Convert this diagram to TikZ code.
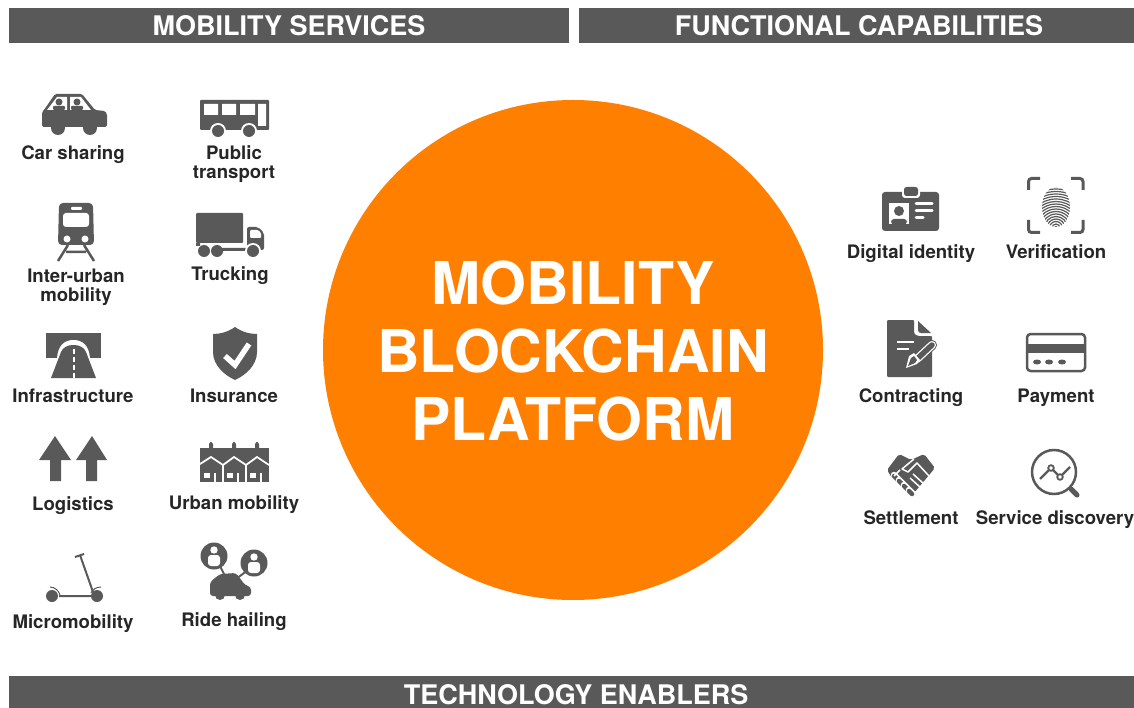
\documentclass[tikz,border=0pt]{standalone}
\usepackage{fontspec}
\setmainfont{TeX Gyre Heros}
\definecolor{bargray}{HTML}{595959}
\definecolor{icongray}{HTML}{595959}
\definecolor{captiontext}{HTML}{262626}
\definecolor{huborange}{HTML}{FF7F00}
\begin{document}
\begin{tikzpicture}[x=1pt,y=-1pt]
   \tikzstyle{banner}=[text=white,inner sep=0pt,font=\fontsize{27}{28}\selectfont\bfseries,text height=20pt,text depth=0pt]
   \tikzstyle{hub}=[circle,fill=huborange,text=white,inner sep=0pt,minimum size=500pt,align=center,font=\fontsize{59}{68}\selectfont\bfseries]
   \tikzstyle{caption}=[text=captiontext,inner sep=0pt,font=\fontsize{18.6}{19}\selectfont\bfseries,text height=14pt,text depth=0pt]
   \tikzstyle{captiontwo}=[text=captiontext,inner sep=0pt,font=\fontsize{18.6}{19}\selectfont\bfseries,align=center]
   \tikzstyle{icon}=[fill=icongray,draw=none]
   \tikzstyle{cutout}=[fill=white,draw=none]
   \tikzstyle{stroke}=[draw=icongray,line width=2.5pt]
   \tikzstyle{whiteline}=[draw=white,line width=2.5pt]
   \useasboundingbox (0,0) rectangle (1134,708);
   \fill [bargray] (9,8) rectangle (569,43);
   \fill [bargray] (579,8) rectangle (1134,43);
   \fill [bargray] (9,676) rectangle (1134,708);
   \node (services) [banner] at (289,25.5) {MOBILITY SERVICES} ;
   \node (capabilities) [banner] at (859,25.5) {FUNCTIONAL CAPABILITIES} ;
   \node (enablers) [banner] at (576,694) {TECHNOLOGY ENABLERS} ;
   \node (platform) [hub] at (573,350) {\rule{0pt}{46pt}MOBILITY\\BLOCKCHAIN\\PLATFORM} ;

   \node (carsharing) [caption] at (73,153) {Car sharing} ;
   \node (public) [captiontwo] at (234,164) {Public\\transport} ;
   \node (interurban) [captiontwo] at (76,287) {Inter-urban\\mobility} ;
   \node (trucking) [caption] at (230,274) {Trucking} ;
   \node (infrastructure) [caption] at (73,395) {Infrastructure} ;
   \node (insurance) [caption,right of=infrastructure,node distance=161pt] {Insurance} ;
   \node (logistics) [caption,below of=infrastructure,node distance=108pt] {Logistics} ;
   \node (urban) [caption] at (234,502) {Urban mobility} ;
   \node (micro) [caption,below of=logistics,node distance=118pt] {Micromobility} ;
   \node (ridehailing) [caption] at (234,619) {Ride hailing} ;
   \node (identity) [caption] at (911,252) {Digital identity} ;
   \node (verification) [caption,right of=identity,node distance=145pt] {Verification} ;
   \node (contracting) [caption,below of=identity,node distance=143pt] {Contracting} ;
   \node (payment) [caption,right of=contracting,node distance=145pt] {Payment} ;
   \node (settlement) [caption,below of=contracting,node distance=122pt] {Settlement} ;
   \node (discovery) [caption] at (1055,517) {Service discovery} ;

   % car sharing
   \fill [icon,rounded corners=1.5pt] (42,127) -- (42,112) -- (44,110) -- (55,94) -- (82,94) -- (95,110) -- (105,111) -- (107,114) -- (107,127) -- cycle ;
   \fill [icon] (58,128) circle (7) (90,128) circle (7) ;
   \fill [cutout] (47,110) -- (57,97) -- (67,97) -- (67,110) -- cycle (70,97) -- (81,97) -- (91,110) -- (70,110) -- cycle ;
   \fill [icon] (59,102) circle (3.5) (77,102) circle (3.5) ;
   \fill [icon,rounded corners=1pt] (53,110) -- (53,106) -- (65,106) -- (65,110) -- cycle (71,110) -- (71,106) -- (83,106) -- (83,110) -- cycle ;

   % public transport
   \fill [icon,rounded corners=1pt] (200,100) rectangle (269,130) ;
   \fill [cutout] (204,104) rectangle (218,115) (222,104) rectangle (236,115) (240,104) rectangle (255,115) (258,104) rectangle (266,126) ;
   \fill [cutout] (218,131) circle (8) (249,131) circle (8) ;
   \fill [icon] (218,131) circle (6) (249,131) circle (6) ;

   % inter-urban mobility
   \fill [icon,rounded corners=4pt] (58,245) -- (59,203) -- (93,203) -- (94,245) -- cycle ;
   \fill [cutout,rounded corners=3pt] (63,213) rectangle (89,227) ;
   \fill [cutout,rounded corners=1pt] (71,207) rectangle (82,210) ;
   \fill [cutout] (67,239) circle (3.5) (85,239) circle (3.5) ;
   \draw [stroke] (68,245) -- (58,261) (84,245) -- (94,261) (66,252) -- (86,252) ;

   % trucking
   \fill [icon,rounded corners=1pt] (196,213) rectangle (243,243) ;
   \fill [icon,rounded corners=2pt] (247,227) -- (258,227) -- (264,233) -- (264,250) -- (247,250) -- cycle ;
   \fill [cutout,rounded corners=1pt] (250,230) -- (258,230) -- (261,233) -- (261,238) -- (250,238) -- cycle ;
   \fill [icon] (196,243) rectangle (200,246) (222,248) rectangle (250,251) ;
   \fill [icon] (204,251) circle (6) (217,251) circle (6) ;
   \fill [cutout] (253,251) circle (8) ;
   \fill [icon] (253,251) circle (6) ;

   % infrastructure
   \fill [icon] (46,333) rectangle (101,358) ;
   \fill [cutout] (57,358) .. controls (58,346) and (64,340) .. (73.5,340) .. controls (83,340) and (89,346) .. (90,358) -- cycle ;
   \fill [icon] (51,378) -- (61,352) .. controls (63,347) and (68,345) .. (73.5,345) .. controls (79,345) and (84,347) .. (86,352) -- (96,378) -- cycle ;
   \draw [whiteline,line width=2pt,dash pattern=on 5pt off 3pt] (73.5,349) -- (73.5,378) ;

   % insurance
   \fill [icon] (235,327) .. controls (228,332) and (220,334) .. (213,334) -- (213,352) .. controls (213,365) and (224,375) .. (235,380) .. controls (246,375) and (257,365) .. (257,352) -- (257,334) .. controls (250,334) and (242,332) .. (235,327) -- cycle ;
   \draw [whiteline,line width=5.5pt] (225,356) -- (235,365) -- (249,344) ;

   % logistics
   \fill [icon] (55,436) -- (71,460) -- (61,460) -- (61,481) -- (50,481) -- (50,460) -- (39,460) -- cycle ;
   \fill [icon] (92,436) -- (107,460) -- (97,460) -- (97,481) -- (86,481) -- (86,460) -- (76,460) -- cycle ;

   % urban mobility
   \fill [icon] (200,448) rectangle (269,482) ;
   \draw [whiteline,line width=1.8pt] (200,464) -- (211,457) -- (223,465) -- (234,457) -- (246,465) -- (257,457) -- (269,465) ;
   \draw [whiteline,line width=1.5pt] (223,465) -- (223,482) (246,465) -- (246,482) ;
   \foreach \x in {211,234,257} {
      \fill [icon] (\x-2,448) -- (\x-2,444) -- (\x,441.5) -- (\x+2,444) -- (\x+2,448) -- cycle ;
      \fill [cutout] (\x-7,473) rectangle (\x-1,478) ;
      \fill [cutout] (\x+3,473) rectangle (\x+4.5,482) ;
   }

   % micromobility
   \fill [icon] (52,596) circle (6) (97,596) circle (6) ;
   \draw [stroke,line width=2pt] (59,596) -- (91,596) (80,555) -- (93,592) ;
   \draw [stroke,line width=2pt] (75,557) -- (84,554) ;
   \draw [stroke,line width=1pt] (50,587) .. controls (55,587) and (59,591) .. (60,595) ;
   \draw [stroke,line width=1pt] (101,587) .. controls (96,587) and (92,590) .. (91,593) ;

   % ride hailing
   \draw [stroke,line width=2pt] (219,564) -- (226,578) (248,570) -- (236,579) ;
   \fill [icon] (214,556) circle (13.5) (254,563) circle (13.5) ;
   \fill [cutout] (214,550) circle (3.7) (254,557) circle (3.7) ;
   \fill [cutout,rounded corners=3pt] (208,566) -- (208,555) -- (220,555) -- (220,566) -- cycle (248,573) -- (248,562) -- (260,562) -- (260,573) -- cycle ;
   \fill [icon,rounded corners=3pt] (210,596) -- (210,582) -- (220,574) -- (236,573) -- (245,585) -- (251,587) -- (251,596) -- cycle ;
   \fill [icon] (220,595) circle (5) (240,595) circle (5) ;

   % digital identity
   \fill [icon,rounded corners=3pt] (882,192) rectangle (939,231) ;
   \fill [cutout,rounded corners=3pt] (902,185.5) rectangle (920,198) ;
   \fill [icon,rounded corners=2.5pt] (904,187) rectangle (918,196) ;
   \fill [cutout] (889,203) rectangle (909,224) ;
   \fill [icon] (899,211) circle (5) ;
   \fill [icon,rounded corners=3pt] (891,224.5) -- (891,219) -- (907,219) -- (907,224.5) -- cycle ;
   \draw [whiteline,line width=3pt,line cap=round] (916,204) -- (932,204) (916,211) -- (932,211) (916,217.5) -- (923,217.5) ;

   % verification
   \draw [stroke,line width=3pt,rounded corners=3pt] (1028.5,190) -- (1028.5,178.5) -- (1040,178.5) (1071,178.5) -- (1083,178.5) -- (1083,190) (1028.5,220) -- (1028.5,232.5) -- (1040,232.5) (1071,232.5) -- (1083,232.5) -- (1083,220) ;
   \begin{scope}
      \clip (1056,207) ellipse (14 and 20) ;
      \foreach \r in {1.5,4,...,44} {
         \draw [icongray,line width=1.2pt] (1056,228) circle (\r) ;
      }
   \end{scope}

   % contracting
   \fill [icon,rounded corners=1pt] (887,320) -- (914,320) -- (914,330) .. controls (914,335) and (917,336) .. (920,336) -- (932,336) -- (932,377) -- (887,377) -- cycle ;
   \fill [icon] (918,321) -- (931,333) -- (921,333) .. controls (919,333) and (918,332) .. (918,330) -- cycle ;
   \draw [whiteline,line width=2.5pt] (897,342) -- (914,342) (897,349) -- (909,349) ;
   \draw [icongray,line width=10pt,line cap=round] (917,359) -- (932,345) ;
   \draw [white,line width=8pt,line cap=round] (917,359) -- (932,345) ;
   \draw [icongray,line width=5.5pt,line cap=round] (917,359) -- (932,345) ;
   \fill [cutout] (906,368) -- (909,356) -- (914,353) -- (920,360) -- (917,364) -- cycle ;
   \fill [icon] (908,366) -- (911,358) -- (914,356) -- (917,360) -- (915,363) -- cycle ;

   % payment
   \draw [stroke,fill=white,rounded corners=3.5pt] (1027,334) rectangle (1085,371) ;
   \fill [icon] (1027,344) rectangle (1085,353) ;
   \fill [icon] (1037,362) ellipse (4 and 2.5) (1049,362) ellipse (4 and 2.5) (1062,362) ellipse (4 and 2.5) ;

   % settlement
   \fill [icon,rounded corners=2pt] (887,470) -- (899,454) -- (911,460) -- (924,454) -- (935,468) -- (914,493) -- (892,478) -- cycle ;
   \foreach \x/\y in {895/477,900/482,905/487,910/492} {
      \draw [white,line width=6.5pt,line cap=round] (\x-1,\y-2) -- (\x+3,\y+2) ;
      \draw [icongray,line width=4.5pt,line cap=round] (\x-1,\y-1) -- (\x+2,\y+2) ;
   }
   \draw [whiteline,line width=1.5pt,line join=round] (894,476) -- (900,470) (914,459) -- (902,469) -- (908,472) -- (917,463) -- (929,476) (913,474) -- (924,484) (910,478) -- (921,488) ;

   % service discovery
   \draw [stroke] (1054,472) circle (22) ;
   \draw [icongray,line width=5pt,line cap=round] (1071,489) -- (1077,495) ;
   \draw [stroke,line width=2.2pt] (1040,479) -- (1051,468) -- (1060,477) -- (1070,467) ;
   \filldraw [fill=white,draw=icongray,line width=1.8pt] (1051,468) circle (2.8) (1060,477) circle (2.8) ;
\end{tikzpicture}
\end{document}
